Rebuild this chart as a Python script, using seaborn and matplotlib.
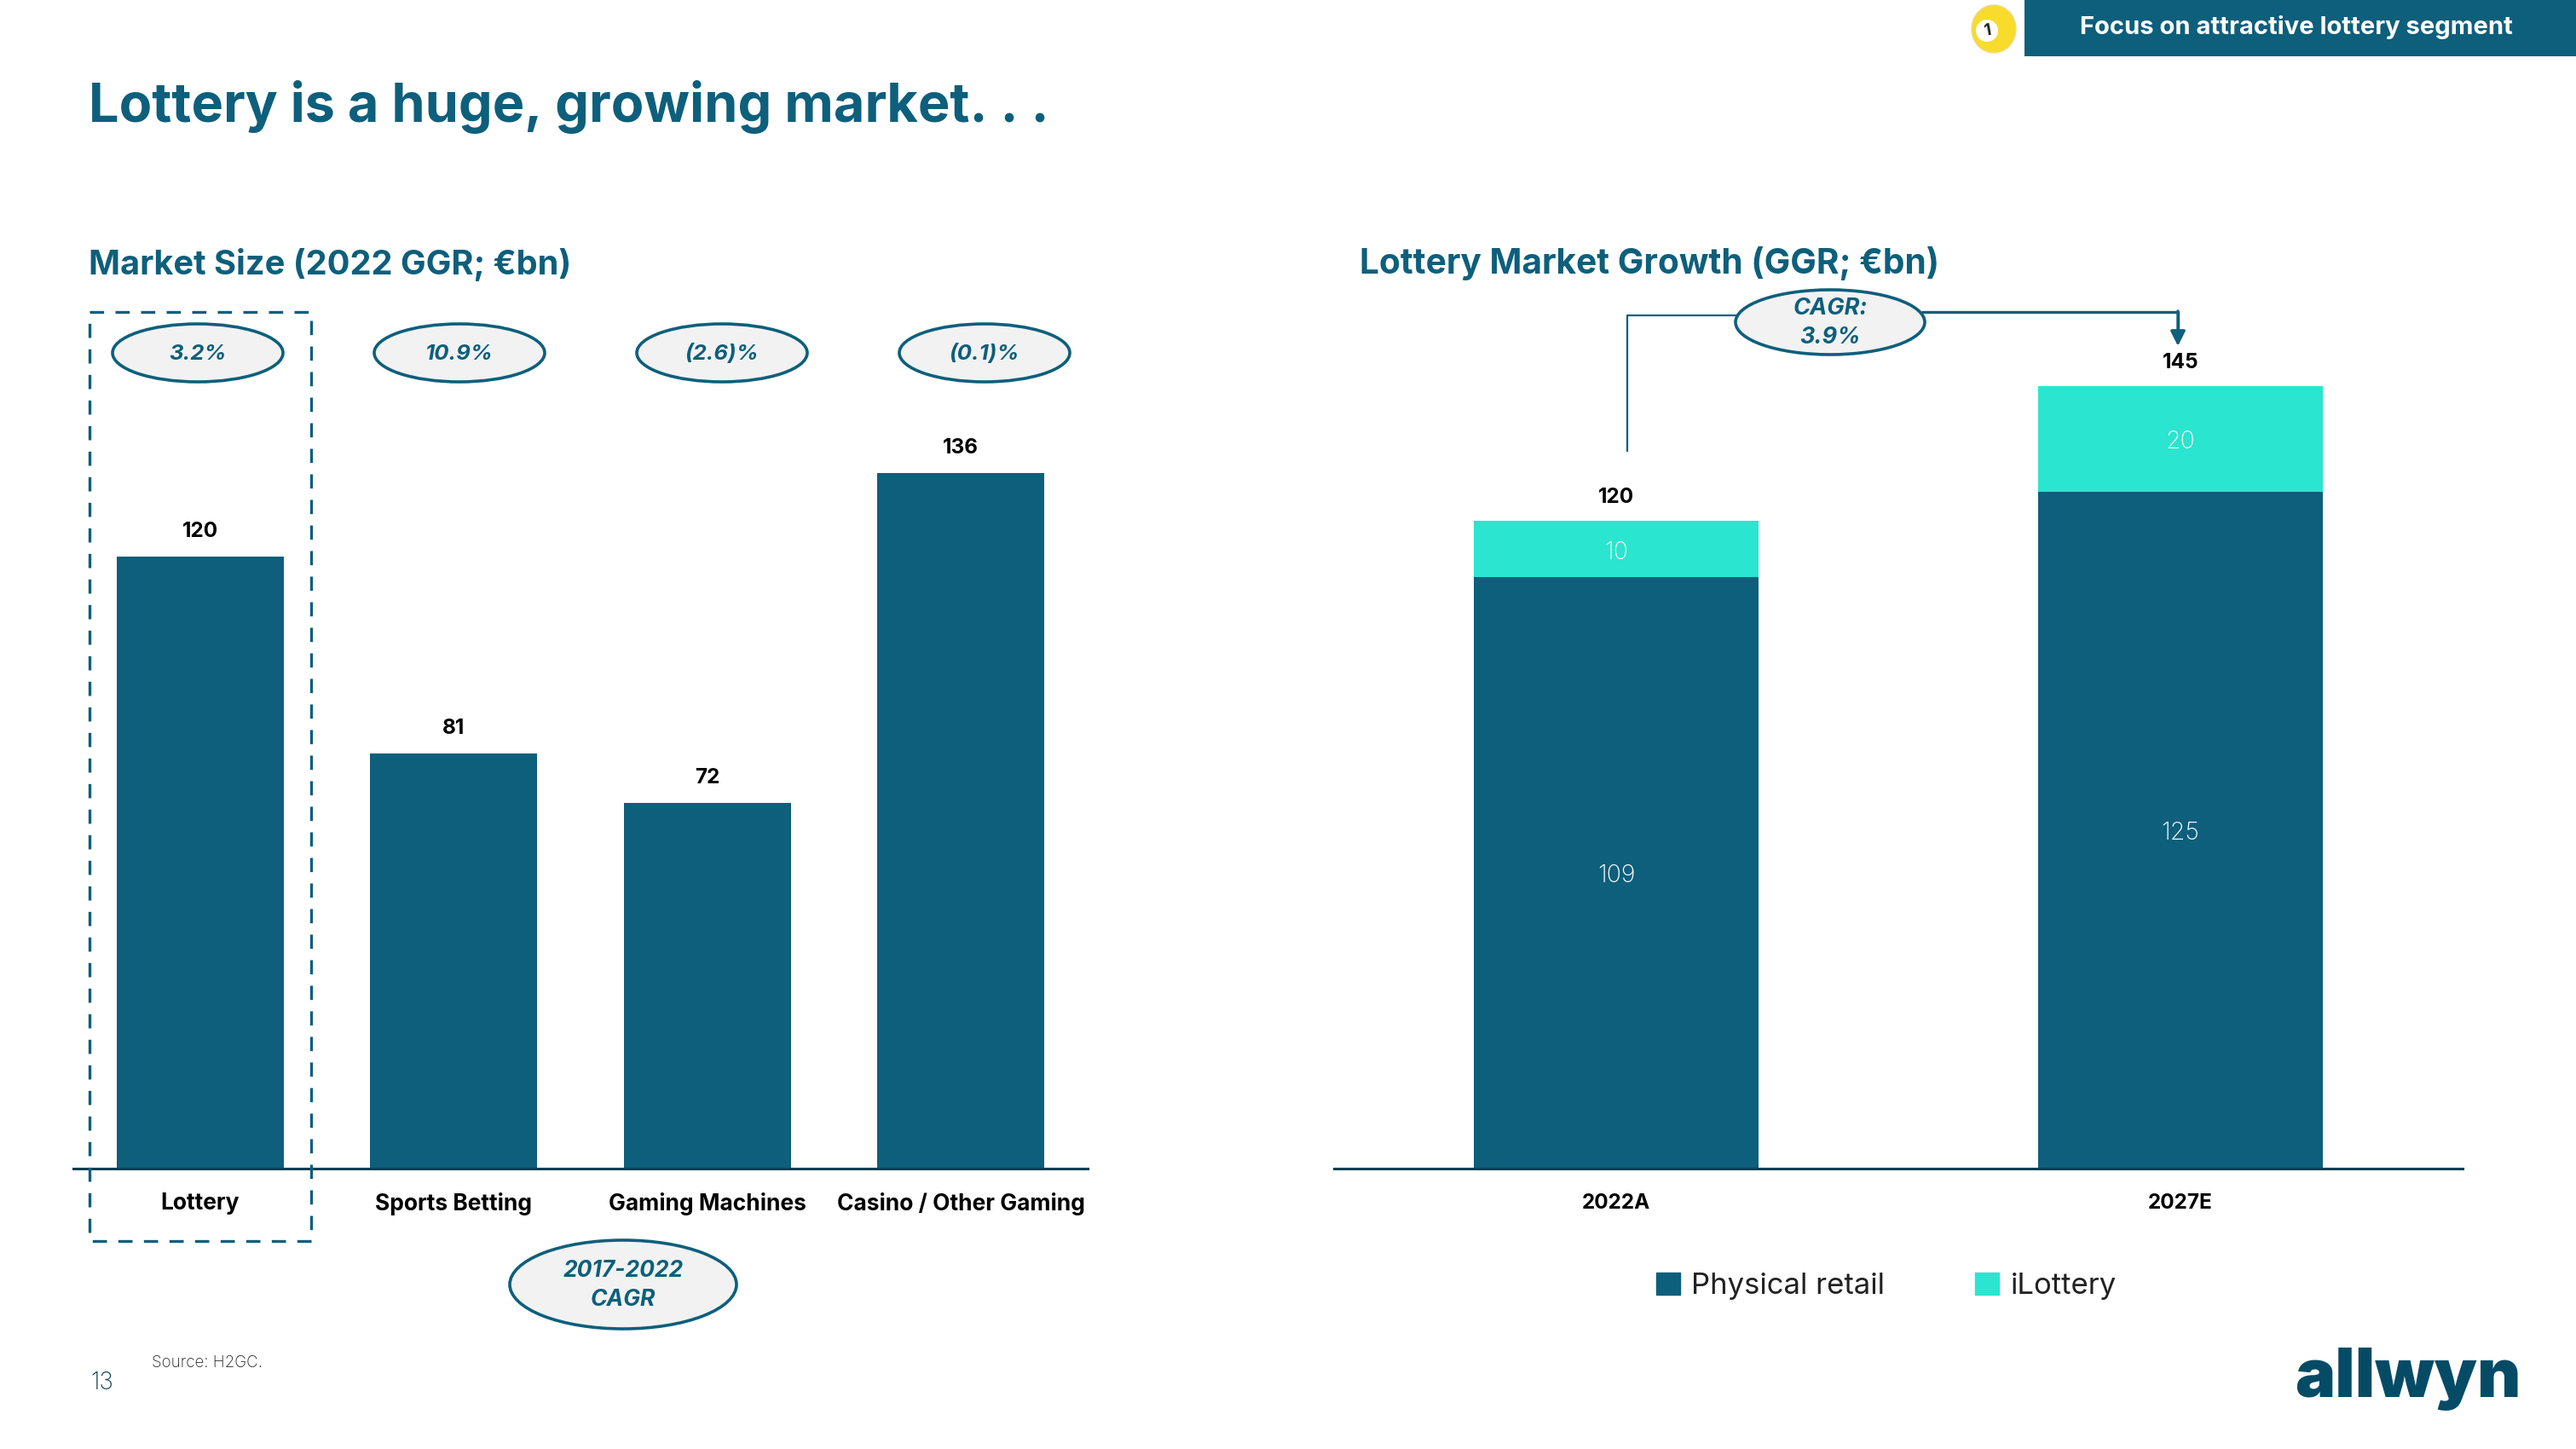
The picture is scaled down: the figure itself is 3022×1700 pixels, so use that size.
import matplotlib
matplotlib.use("Agg")
import matplotlib.pyplot as plt
import pandas as pd
import seaborn as sns
from matplotlib.patches import Ellipse, Rectangle, Circle

W, H = 3022, 1700
DARK = "#0D5F7C"
TEAL = "#2AE5CF"
LOGO = "#064B66"
AXIS = "#0B3F52"

markets = ["Lottery", "Sports Betting", "Gaming Machines", "Casino / Other Gaming"]
market_size = [119.7, 81.2, 71.5, 136]
market_labels = ["120", "81", "72", "136"]
market_cagr = ["3.2%", "10.9%", "(2.6)%", "(0.1)%"]

# Right chart, same thing
years = ["2022A", "2027E"]
physical = [109.6, 125.4]
ilottery = [10.4, 19.6]
physical_labels = ["109", "125"]
ilottery_labels = ["10", "20"]
total_labels = ["120", "145"]

sns.set_theme(style="white")
plt.rcParams["font.family"] = ["Inter", "DejaVu Sans"]

fig = plt.figure(figsize=(W / 100, H / 100), dpi=100)


def px_axes(x0, x1, y_top, y_bottom):
    return fig.add_axes([x0 / W, 1 - y_bottom / H, (x1 - x0) / W, (y_bottom - y_top) / H])


def clean(ax, size, pad):
    sns.despine(ax=ax, left=True)
    ax.set_yticks([])
    ax.set_xlabel("")
    ax.set_ylabel("")
    ax.spines["bottom"].set_color(AXIS)
    ax.spines["bottom"].set_linewidth(2.2)
    ax.tick_params(axis="x", length=0, pad=pad)
    for t in ax.get_xticklabels():
        t.set_fontsize(size)
        t.set_fontweight("bold")
        t.set_color("black")


# market size bars (6 px per unit, baseline at y=1371)
ax1 = px_axes(86, 1276, 471, 1371)
sns.barplot(x=markets, y=market_size, color=DARK, saturation=1, width=0.66, linewidth=0, ax=ax1)
ax1.set_xlim(-0.5, 3.5)
ax1.set_ylim(0, 150)
clean(ax1, 19, 20)
for i, v in enumerate(market_size):
    ax1.annotate(market_labels[i], (i, v), xytext=(0, 21), textcoords="offset points",
                 ha="center", va="center", fontsize=17.5, fontweight="bold", color="black")

# growth bars, totals drawn first so the darker part stacks on top
ax2 = px_axes(1565, 2889, 371, 1371)
stack = pd.DataFrame({"year": years, "physical": physical, "ilottery": ilottery})
stack["stacked"] = stack["physical"] + stack["ilottery"]
sns.barplot(data=stack, x="year", y="stacked", color=TEAL, saturation=1, width=0.505, linewidth=0, ax=ax2)
sns.barplot(data=stack, x="year", y="physical", color=DARK, saturation=1, width=0.505, linewidth=0, ax=ax2)
ax2.set_xlim(-0.5, 1.5)
ax2.set_ylim(0, 1000 / 6.33)
clean(ax2, 17.5, 21)
for i in range(len(years)):
    ax2.text(i, physical[i] / 2 - 0.5, physical_labels[i], ha="center", va="center",
             color="white", fontsize=20.5, fontweight="light")
    ax2.text(i, physical[i] + ilottery[i] / 2 - 0.6, ilottery_labels[i], ha="center", va="center",
             color="white", fontsize=20.5, fontweight="light")
    ax2.annotate(total_labels[i], (i, physical[i] + ilottery[i]), xytext=(0, 20),
                 textcoords="offset points", ha="center", va="center",
                 fontsize=17.5, fontweight="bold", color="black")

handles = [Rectangle((0, 0), 1, 1, color=DARK), Rectangle((0, 0), 1, 1, color=TEAL)]
ax2.legend(handles, ["Physical retail", "iLottery"], ncol=2, frameon=False, loc="center",
           bbox_to_anchor=(2213 / W, 1 - 1509 / H), bbox_transform=fig.transFigure,
           fontsize=25, handlelength=0.8, handleheight=0.8, handletextpad=0.4,
           columnspacing=3.05, labelcolor="#222222")

# everything else is placed in picture pixels
over = fig.add_axes([0, 0, 1, 1], zorder=5)
over.set_xlim(0, W)
over.set_ylim(H, 0)
over.axis("off")
over.patch.set_alpha(0)


def bubble(cx, cy, w, h, text, size=19):
    over.add_patch(Ellipse((cx, cy), w, h, fc="#F2F2F2", ec=DARK, lw=2.6))
    over.text(cx, cy + 1, text, ha="center", va="center", fontsize=size, fontweight="bold",
              style="italic", color=DARK, linespacing=1.4)


over.text(104, 125, "Lottery is a huge, growing market. . .", fontsize=45.4, fontweight="bold",
          color=DARK, va="center", ha="left")
over.text(104, 310, "Market Size (2022 GGR; €bn)", fontsize=28.6, fontweight="bold",
          color=DARK, va="center", ha="left")
over.text(1595, 309, "Lottery Market Growth (GGR; €bn)", fontsize=29.3, fontweight="bold",
          color=DARK, va="center", ha="left")

# top right tab
over.add_patch(Rectangle((2375, 0), 647, 66, fc=DARK, ec="none"))
over.text(2694, 32, "Focus on attractive lottery segment", fontsize=21, fontweight="bold",
          color="white", ha="center", va="center")
over.add_patch(Ellipse((2339, 34), 52, 56, fc="#F7DC2B", ec="#EFD98A", lw=1))
over.add_patch(Circle((2331, 36), 13, fc="white", ec="none"))
over.text(2331, 36, "1", fontsize=14, fontweight="bold", color="#222222", ha="center",
          va="center", rotation=10)

# highlight box round lottery
over.add_patch(Rectangle((105, 366), 260, 1090, fc="none", ec=DARK, lw=2.4, ls=(0, (5, 4))))

for cx, txt in zip([232, 539, 847, 1155], market_cagr):
    bubble(cx, 414, 200, 68, txt, size=18.5)
bubble(731, 1507, 266, 104, "2017-2022\nCAGR", size=19)

# CAGR connector on the right chart
over.plot([1909, 1909, 2040], [530, 370, 370], color=DARK, lw=1.6, solid_capstyle="butt")
over.annotate("", xy=(2555, 406), xytext=(2555, 365),
              arrowprops=dict(arrowstyle="-|>", color=DARK, lw=2.4, mutation_scale=26,
                              shrinkA=0, shrinkB=0))
over.plot([2255, 2555, 2555], [366, 366, 385], color=DARK, lw=2.4)
bubble(2147, 378, 222, 76, "CAGR:\n3.9%", size=19.5)

over.text(178, 1599, "Source: H2GC.", fontsize=13.5, fontweight="light", color="#222222",
          ha="left", va="center")
over.text(106, 1623, "13", fontsize=20, color=AXIS, fontweight="light", ha="left", va="center")
over.text(2958, 1639, "allwyn", fontsize=57, fontweight="black", color=LOGO,
          ha="right", va="baseline")

fig.savefig("out.png", dpi=100, facecolor="white")
